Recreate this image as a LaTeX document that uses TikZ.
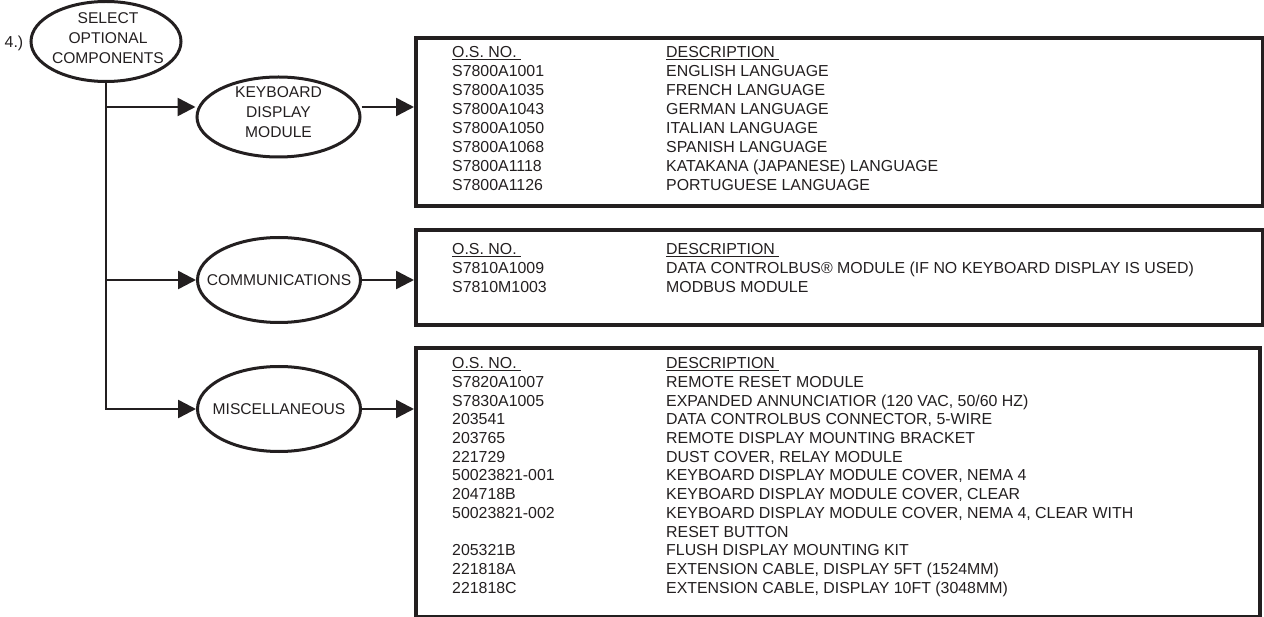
\documentclass[tikz,border=0pt]{standalone}
\usepackage{fontspec}
\setmainfont{Liberation Sans}
\usetikzlibrary{arrows.meta,shapes.geometric}
\definecolor{ink}{RGB}{35,31,32}
\newcommand\myul[1]{\setbox0\hbox{#1}\rlap{\rule[-2.6pt]{\wd0}{1.3pt}}\box0}
\begin{document}
\begin{tikzpicture}[x=1pt,y=-1pt,
  every node/.style={font=\fontsize{15.9}{20}\selectfont, text=ink},
  oval/.style={ellipse, draw=ink, line width=3pt, minimum width=163pt, minimum height=85pt, inner sep=0pt},
  lbl/.style={align=center, inner sep=0pt, font=\fontsize{15.6}{19.8}\selectfont},
  panel/.style={draw=ink, line width=4pt, anchor=north west, inner sep=0pt},
  conn/.style={draw=ink, line width=2.5pt},
  arr/.style={conn, -{Triangle[length=18pt,width=18pt]}},
  row/.style={anchor=west, inner sep=0pt, text height=11.4pt, text depth=0pt},
]
\useasboundingbox (0,0) rectangle (1264,617);

% ovals
\node[oval, minimum width=150pt, minimum height=80pt] (sel) at (106,41.5) {};
\node[lbl] (sellbl) at (108,38) {SELECT\\OPTIONAL\\COMPONENTS};
\node (num) at (14,43) {4.)};
\node[oval, minimum height=80pt] (kbd) at (278.5,117) {};
\node[lbl] (kbdlbl) at (278.5,112) {KEYBOARD\\DISPLAY\\MODULE};
\node[oval] (com) at (279,280) {};
\node[lbl] (comlbl) at (com.center) {COMMUNICATIONS};
\node[oval] (misc) at (279,409) {};
\node[lbl] (misclbl) at (misc.center) {MISCELLANEOUS};

% panels
\node[panel, minimum width=847pt, minimum height=168pt] (kbox) at (414,36) {};
\node[panel, minimum width=847pt, minimum height=95pt] (cbox) at (414,228) {};
\node[panel, minimum width=844pt, minimum height=269pt] (mbox) at (414,346) {};

% connectors
\coordinate (kin) at (kbd.west |- 0,107);
\coordinate (kout) at (kbd.east |- 0,107);
\draw[arr] (sel.south) |- (misc.west);
\draw[arr] (kin -| sel.south) -- (kin);
\draw[arr] (com.west -| sel.south) -- (com.west);
\draw[arr] (kout) -- (kout -| kbox.west);
\draw[arr] (com.east) -- (com.east -| cbox.west);
\draw[arr] (misc.east) -- (misc.east -| mbox.west);

% keyboard table
\foreach \os/\ds [count=\i from 0] in {
  {\myul{O.S. NO.\ }}/{\myul{DESCRIPTION\ }},
  {S7800A1001}/{ENGLISH LANGUAGE},
  {S7800A1035}/{FRENCH LANGUAGE},
  {S7800A1043}/{GERMAN LANGUAGE},
  {S7800A1050}/{ITALIAN LANGUAGE},
  {S7800A1068}/{SPANISH LANGUAGE},
  {S7800A1118}/{KATAKANA (JAPANESE) LANGUAGE},
  {S7800A1126}/{PORTUGUESE LANGUAGE}}{
  \node[row] (ka\i) at (452,{52+\i*19}) {\os};
  \node[row] (kb\i) at (666,{52+\i*19}) {\ds};
}

% communications table
\foreach \os/\ds [count=\i from 0] in {
  {\myul{O.S. NO.\ }}/{\myul{DESCRIPTION\ }},
  {S7810A1009}/{DATA CONTROLBUS® MODULE (IF NO KEYBOARD DISPLAY IS USED)},
  {S7810M1003}/{MODBUS MODULE}}{
  \node[row] (ca\i) at (452,{249+\i*19}) {\os};
  \node[row] (cb\i) at (666,{249+\i*19}) {\ds};
}

% miscellaneous table
\foreach \os/\ds [count=\i from 0] in {
  {\myul{O.S. NO.\ }}/{\myul{DESCRIPTION\ }},
  {S7820A1007}/{REMOTE RESET MODULE},
  {S7830A1005}/{EXPANDED ANNUNCIATIOR (120 VAC, 50/60 HZ)},
  {203541}/{DATA CONTROLBUS CONNECTOR, 5-WIRE},
  {203765}/{REMOTE DISPLAY MOUNTING BRACKET},
  {221729}/{DUST COVER, RELAY MODULE},
  {50023821-001}/{KEYBOARD DISPLAY MODULE COVER, NEMA 4},
  {204718B}/{KEYBOARD DISPLAY MODULE COVER, CLEAR},
  {50023821-002}/{KEYBOARD DISPLAY MODULE COVER, NEMA 4, CLEAR WITH},
  {}/{RESET BUTTON},
  {205321B}/{FLUSH DISPLAY MOUNTING KIT},
  {221818A}/{EXTENSION CABLE, DISPLAY 5FT (1524MM)},
  {221818C}/{EXTENSION CABLE, DISPLAY 10FT (3048MM)}}{
  \node[row] (ma\i) at (452,{363+\i*18.7}) {\os};
  \node[row] (mb\i) at (666,{363+\i*18.7}) {\ds};
}
\end{tikzpicture}
\end{document}
